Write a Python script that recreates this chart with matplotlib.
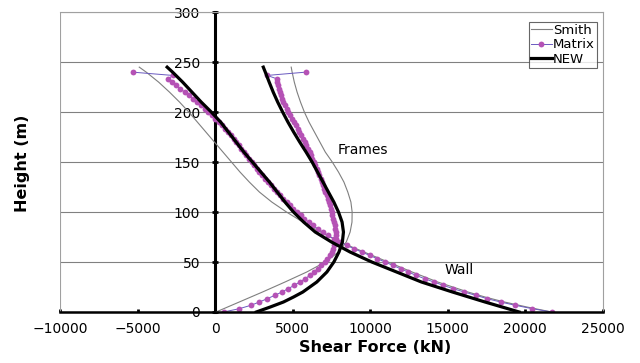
import matplotlib
matplotlib.use('Agg')
import matplotlib.pyplot as plt

# storey heights (m) for the Matrix results
matrix_h = [0, 3.3, 6.7, 10, 13.3, 16.7, 20, 23.3, 26.7, 30,
            33.3, 36.7, 40, 43.3, 46.7, 50, 53.3, 56.7, 60, 63.3,
            66.7, 70, 73.3, 76.7, 80, 83.3, 86.7, 90, 93.3, 96.7,
            100, 103.3, 106.7, 110, 113.3, 116.7, 120, 123.3, 126.7, 130,
            133.3, 136.7, 140, 143.3, 146.7, 150, 153.3, 156.7, 160, 163.3,
            166.7, 170, 173.3, 176.7, 180, 183.3, 186.7, 190, 193.3, 196.7,
            200, 203.3, 206.7, 210, 213.3, 216.7, 220, 223.3, 226.7, 230,
            233.3, 236.7, 240]
matrix_wall = [21700, 20450, 19350, 18400, 17550, 16800, 16050, 15350, 14700, 14100,
               13500, 12950, 12450, 11950, 11450, 10950, 10450, 9950, 9450, 8950,
               8480, 8050, 7650, 7270, 6920, 6600, 6300, 6020, 5750, 5500,
               5260, 5030, 4810, 4600, 4390, 4190, 3990, 3790, 3590, 3400,
               3210, 3030, 2850, 2680, 2510, 2340, 2170, 2000, 1830, 1670,
               1510, 1350, 1200, 1040, 850, 650, 440, 220, 0, -230,
               -460, -690, -920, -1160, -1420, -1690, -1970, -2250, -2530, -2800,
               -3020, -2750, -5330]
matrix_frame = [540, 1550, 2300, 2850, 3350, 3850, 4300, 4700, 5100, 5450,
                5800, 6100, 6380, 6620, 6850, 7050, 7230, 7380, 7500, 7600,
                7680, 7730, 7760, 7770, 7760, 7740, 7710, 7670, 7620, 7560,
                7520, 7460, 7400, 7330, 7260, 7180, 7100, 7030, 6960, 6890,
                6810, 6720, 6630, 6540, 6450, 6360, 6270, 6180, 6080, 5980,
                5870, 5760, 5650, 5540, 5430, 5320, 5200, 5080, 4960, 4840,
                4720, 4600, 4500, 4400, 4320, 4240, 4170, 4100, 4050, 4010,
                3980, 3350, 5850]

# heights (m) for the Smith and NEW curves
line_h = [0, 5, 10, 15, 20, 30, 40, 50, 60, 70, 80, 90, 100, 110,
          120, 130, 140, 150, 160, 170, 180, 190, 200, 210, 220, 230, 240, 245]
smith_wall = [21700, 20100, 18650, 17400, 16300, 14350, 12700, 11150, 9600, 8050,
              6800, 5650, 4600, 3650, 2850, 2200, 1600, 1050, 500, -50,
              -600, -1150, -1700, -2300, -2950, -3650, -4450, -4900]
smith_frame = [50, 800, 1550, 2300, 3050, 4500, 5900, 7100, 7950, 8450,
               8700, 8820, 8830, 8750, 8550, 8300, 7950, 7550, 7100, 6750,
               6400, 6050, 5750, 5500, 5280, 5100, 4960, 4900]
new_wall = [19600, 18500, 17400, 16350, 15300, 13300, 11700, 10100, 8700, 7500,
            6450, 5700, 5050, 4500, 4000, 3500, 2950, 2400, 1850, 1350,
            850, 350, -250, -900, -1500, -2100, -2750, -3100]
new_frame = [2650, 3550, 4400, 5050, 5650, 6550, 7200, 7650, 7980, 8200,
             8270, 8180, 7950, 7650, 7300, 6950, 6600, 6250, 5860, 5450,
             5060, 4690, 4350, 4030, 3740, 3480, 3230, 3100]

xticks = [-10000, -5000, 0, 5000, 10000, 15000, 20000, 25000]
yticks = [0, 50, 100, 150, 200, 250, 300]

plt.rcParams['font.family'] = ['DejaVu Sans']

fig = plt.figure(figsize=(6.4, 3.63), dpi=100)
ax = fig.add_axes([0.094, 0.1405, 0.848, 0.826])

# Smith
ax.plot(smith_wall, line_h, color='#7f7f7f', lw=0.8, label='Smith', zorder=3)
ax.plot(smith_frame, line_h, color='#7f7f7f', lw=0.8, zorder=3)
# Matrix
for xs, lab in [(matrix_wall, 'Matrix'), (matrix_frame, None)]:
    ax.plot(xs, matrix_h, color='#6a5ac0', lw=0.7, marker='o', ms=4.2,
            mfc='#b552b5', mec='#b552b5', mew=0, label=lab, zorder=4)
# NEW
ax.plot(new_wall, line_h, color='black', lw=2.3, label='NEW', zorder=5)
ax.plot(new_frame, line_h, color='black', lw=2.3, zorder=5)

ax.set_xlim(-10000, 25000)
ax.set_ylim(0, 300)
ax.set_xticks(xticks)
ax.set_yticks(yticks)
ax.yaxis.grid(True, color='#808080', lw=0.8)
ax.set_axisbelow(True)

ax.spines['left'].set_position(('data', 0))
ax.spines['left'].set_linewidth(2.2)
ax.spines['bottom'].set_linewidth(1.8)
ax.spines['bottom'].set_zorder(6)
for s in ['top', 'right']:
    ax.spines[s].set_color('#a0a0a0')
    ax.spines[s].set_linewidth(0.8)
ax.axvline(-10000, color='#a0a0a0', lw=0.8)

ax.tick_params(axis='y', direction='inout', length=4, width=2, pad=9, labelsize=10)
ax.tick_params(axis='x', direction='in', length=2.5, width=2, pad=7, labelsize=10)

ax.text(7900, 162, 'Frames', fontsize=10, va='center')
ax.text(14800, 42, 'Wall', fontsize=10, va='center')

ax.set_xlabel('Shear Force (kN)', fontsize=11.5, fontweight='bold', labelpad=3)
ax.xaxis.set_label_coords(0.58, -0.095)
fig.text(0.035, 0.55, 'Height (m)', rotation=90, fontsize=11.5,
         fontweight='bold', ha='center', va='center')

leg = ax.legend(loc='upper right', bbox_to_anchor=(0.989, 0.967), fontsize=9.5,
                frameon=True, fancybox=False, labelspacing=0.1, handlelength=1.6,
                handletextpad=0.1, borderpad=0.15, borderaxespad=0)
leg.get_frame().set_edgecolor('#404040')
leg.get_frame().set_linewidth(0.8)

fig.savefig('out.png', dpi=100)
